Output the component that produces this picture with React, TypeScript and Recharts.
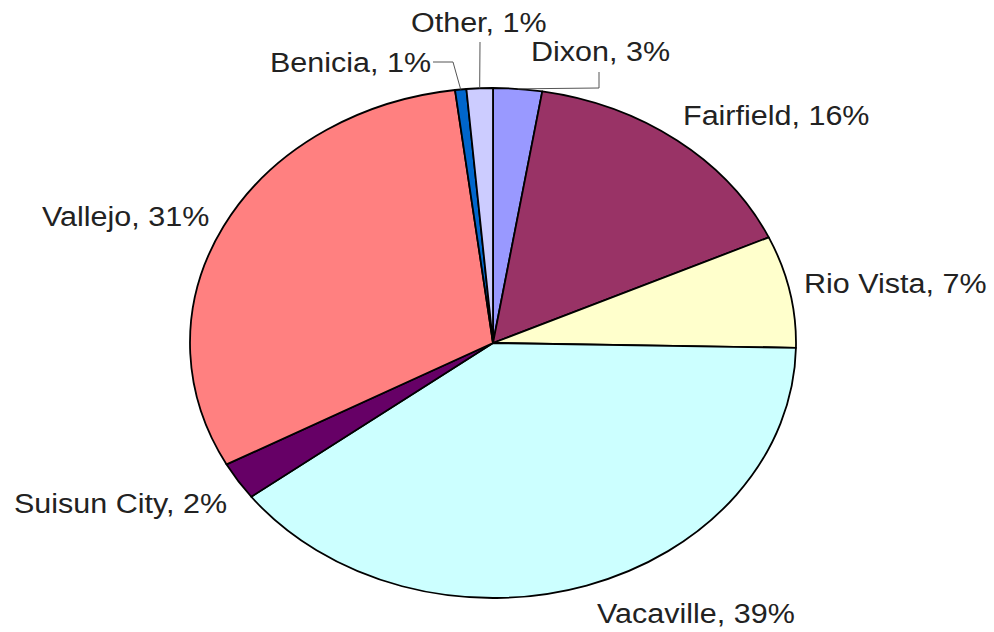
import React from 'react';
import { Pie, PieChart } from 'recharts';

const cities = ['Dixon', 'Fairfield', 'Rio Vista', 'Vacaville', 'Suisun City', 'Vallejo', 'Benicia', 'Other'];
const shares = [2.6, 15.6, 7.1, 39.4, 2.4, 30.9, 0.6, 1.4];
const sliceColors = ['#9999FF', '#993366', '#FFFFCC', '#CCFFFF', '#660066', '#FF8080', '#0066CC', '#CCCCFF'];

// where each label sits (left x, baseline y) and, for the thin slices, the leader bends
const labelLayout: { x: number; y: number; leader?: [number, number][] }[] = [
  { x: 531, y: 61, leader: [[599, 72], [599, 88]] },
  { x: 683, y: 125 },
  { x: 804, y: 293 },
  { x: 597, y: 623 },
  { x: 14, y: 513 },
  { x: 42, y: 226 },
  { x: 270, y: 72, leader: [[433, 62], [453, 62]] },
  { x: 411, y: 32, leader: [[480, 42]] },
];

const data = cities.map((name, i) => ({ name, value: shares[i], fill: sliceColors[i] }));

// the original pie is stretched sideways
const STRETCH = 303 / 255;
const RAD = Math.PI / 180;

function edgePoint(cx: number, cy: number, r: number, angle: number) {
  return [cx + r * STRETCH * Math.cos(-angle * RAD), cy + r * Math.sin(-angle * RAD)];
}

function EllipseSector(props: any) {
  const { cx, cy, outerRadius, startAngle, endAngle, fill } = props;
  const [x1, y1] = edgePoint(cx, cy, outerRadius, startAngle);
  const [x2, y2] = edgePoint(cx, cy, outerRadius, endAngle);
  const delta = startAngle - endAngle;
  const large = Math.abs(delta) > 180 ? 1 : 0;
  const sweep = delta > 0 ? 1 : 0;
  const d = `M${cx},${cy} L${x1},${y1} A${outerRadius * STRETCH},${outerRadius} 0 ${large} ${sweep} ${x2},${y2} Z`;
  return <path d={d} fill={fill} stroke="#000" strokeWidth={1.8} strokeLinejoin="round" />;
}

function renderLabel(props: any) {
  const { cx, cy, outerRadius, midAngle, index, name, percent } = props;
  const spot = labelLayout[index];
  let leader = null;
  if (spot.leader) {
    const [ex, ey] = edgePoint(cx, cy, outerRadius, midAngle);
    const pts = [...spot.leader, [ex, ey]].map((p) => p.join(',')).join(' ');
    leader = <polyline points={pts} fill="none" stroke="#555" strokeWidth={1} />;
  }
  return (
    <g key={`lbl-${index}`}>
      {leader}
      <text
        transform={`translate(${spot.x},${spot.y}) scale(1.13,1)`}
        x={0}
        y={0}
        fill="#222"
        fontSize={27}
        fontFamily="'Liberation Sans', Arial, sans-serif"
      >
        {`${name}, ${Math.round(percent * 100)}%`}
      </text>
    </g>
  );
}

export default function App() {
  return (
    <div style={{ position: 'absolute', left: 0, top: 0, width: 994, height: 632, background: '#fff' }}>
      <PieChart width={994} height={632} margin={{ top: 0, right: 0, bottom: 0, left: 0 }}>
        <Pie
          data={data}
          dataKey="value"
          nameKey="name"
          cx={493}
          cy={343}
          outerRadius={255}
          startAngle={90}
          endAngle={-270}
          shape={EllipseSector}
          activeShape={EllipseSector}
          inactiveShape={EllipseSector}
          label={renderLabel}
          labelLine={false}
          isAnimationActive={false}
        />
      </PieChart>
    </div>
  );
}
